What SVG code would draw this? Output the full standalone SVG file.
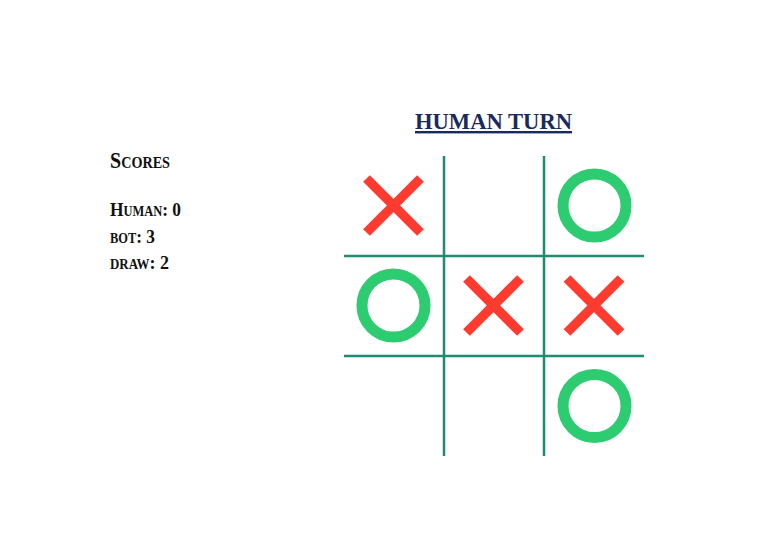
<svg xmlns="http://www.w3.org/2000/svg" width="775" height="545" viewBox="0 0 775 545">
<style>
.score{font-family:"Liberation Serif",serif;font-weight:bold;font-variant:small-caps;fill:#111;}
.grid{stroke:#1f8c72;stroke-width:2.5;fill:none;}
.x{stroke:#ff3b30;stroke-width:9.5;stroke-linecap:butt;}
.o{stroke:#2ecc71;stroke-width:11;fill:none;}
</style>
<rect width="775" height="545" fill="#ffffff"/>
<g id="scores">
<text class="score" x="110" y="168" font-size="24" textLength="60" lengthAdjust="spacingAndGlyphs">Scores</text>
<text class="score" x="110" y="216" font-size="19.5" textLength="71" lengthAdjust="spacingAndGlyphs">Human: 0</text>
<text class="score" x="110" y="243" font-size="19.5" textLength="45" lengthAdjust="spacingAndGlyphs">bot: 3</text>
<text class="score" x="110" y="269" font-size="19.5" textLength="59" lengthAdjust="spacingAndGlyphs">draw: 2</text>
</g>
<g id="title">
<text x="415" y="129" font-family="Liberation Serif,serif" font-weight="bold" font-size="24" fill="#1b2a5c" text-decoration="underline" textLength="157" lengthAdjust="spacingAndGlyphs">HUMAN TURN</text>
</g>
<g id="grid">
<line class="grid" x1="444" y1="156" x2="444" y2="456"/>
<line class="grid" x1="544" y1="156" x2="544" y2="456"/>
<line class="grid" x1="344" y1="256" x2="644" y2="256"/>
<line class="grid" x1="344" y1="356" x2="644" y2="356"/>
</g>
<defs>
<g id="xmark"><line class="x" x1="-27" y1="-27" x2="27" y2="27"/><line class="x" x1="27" y1="-27" x2="-27" y2="27"/></g>
</defs>
<g id="cell-0-0"><use href="#xmark" x="393.5" y="205.5"/></g>
<g id="cell-0-2"><circle class="o" cx="594.5" cy="205.5" r="31.5"/></g>
<g id="cell-1-0"><circle class="o" cx="393.5" cy="305.5" r="31.5"/></g>
<g id="cell-1-1"><use href="#xmark" x="493.5" y="305.5"/></g>
<g id="cell-1-2"><use href="#xmark" x="594" y="305.5"/></g>
<g id="cell-2-2"><circle class="o" cx="594.5" cy="406" r="31.5"/></g>
</svg>
